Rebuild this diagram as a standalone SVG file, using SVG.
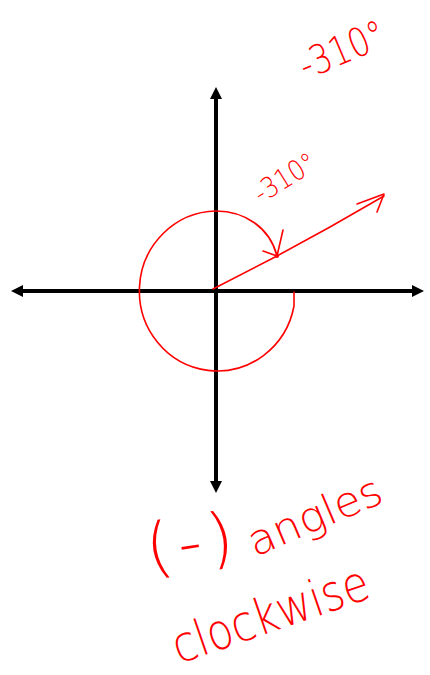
<svg xmlns="http://www.w3.org/2000/svg" width="430" height="675" viewBox="0 0 430 675">
<style>
.axis{stroke:#000;stroke-width:4;fill:none}
.pen{stroke:#f00;stroke-width:1.6;fill:none;stroke-linecap:round;stroke-linejoin:round}
.hand{fill:#f00;font-family:"DejaVu Sans ExtraLight","DejaVu Sans Light",Inter,"Liberation Sans",sans-serif;font-weight:200}
</style>
<defs>
<marker id="ah" viewBox="0 0 12 12" markerWidth="12" markerHeight="12" markerUnits="userSpaceOnUse" refX="3" refY="6" orient="auto-start-reverse">
<path d="M0,0 L12,6 L0,12 z" fill="#000"/>
</marker>
</defs>
<rect width="430" height="675" fill="#fff"/>
<g id="axes">
<line class="axis" x1="20" y1="291" x2="415" y2="291" marker-start="url(#ah)" marker-end="url(#ah)"/>
<line class="axis" x1="216" y1="96" x2="216" y2="484" marker-start="url(#ah)" marker-end="url(#ah)"/>
</g>
<g id="angle">
<path class="pen" d="M294,292 L294,306 A78,80 0 1 1 216,211 C245,211 270,228 277,256"/>
<path class="pen" d="M283,230 L277,256 L263,251"/>
<circle cx="277" cy="256" r="2" fill="#f00"/>
<path class="pen" d="M213,289 L277,256 L330,227 L384,196"/>
<path class="pen" d="M357,204 L384,194 L377,212"/>
</g>
<g id="labels">
<text class="hand" font-size="40" x="306" y="80" textLength="90" lengthAdjust="spacingAndGlyphs" transform="rotate(-23 306 80)">-310°</text>
<text class="hand" font-size="28" x="261" y="204" textLength="68" lengthAdjust="spacingAndGlyphs" transform="rotate(-32 261 204)">-310°</text>
<text class="hand" font-size="66" x="190" y="565" text-anchor="middle" textLength="88" lengthAdjust="spacing" transform="rotate(-9 190 546)">(-)</text>
<text class="hand" font-size="42" x="255" y="557" textLength="142" lengthAdjust="spacingAndGlyphs" transform="rotate(-23 255 557)">angles</text>
<text class="hand" font-size="50" x="179" y="664" textLength="205" lengthAdjust="spacingAndGlyphs" transform="rotate(-19 179 664)">clockwise</text>
</g>
</svg>
